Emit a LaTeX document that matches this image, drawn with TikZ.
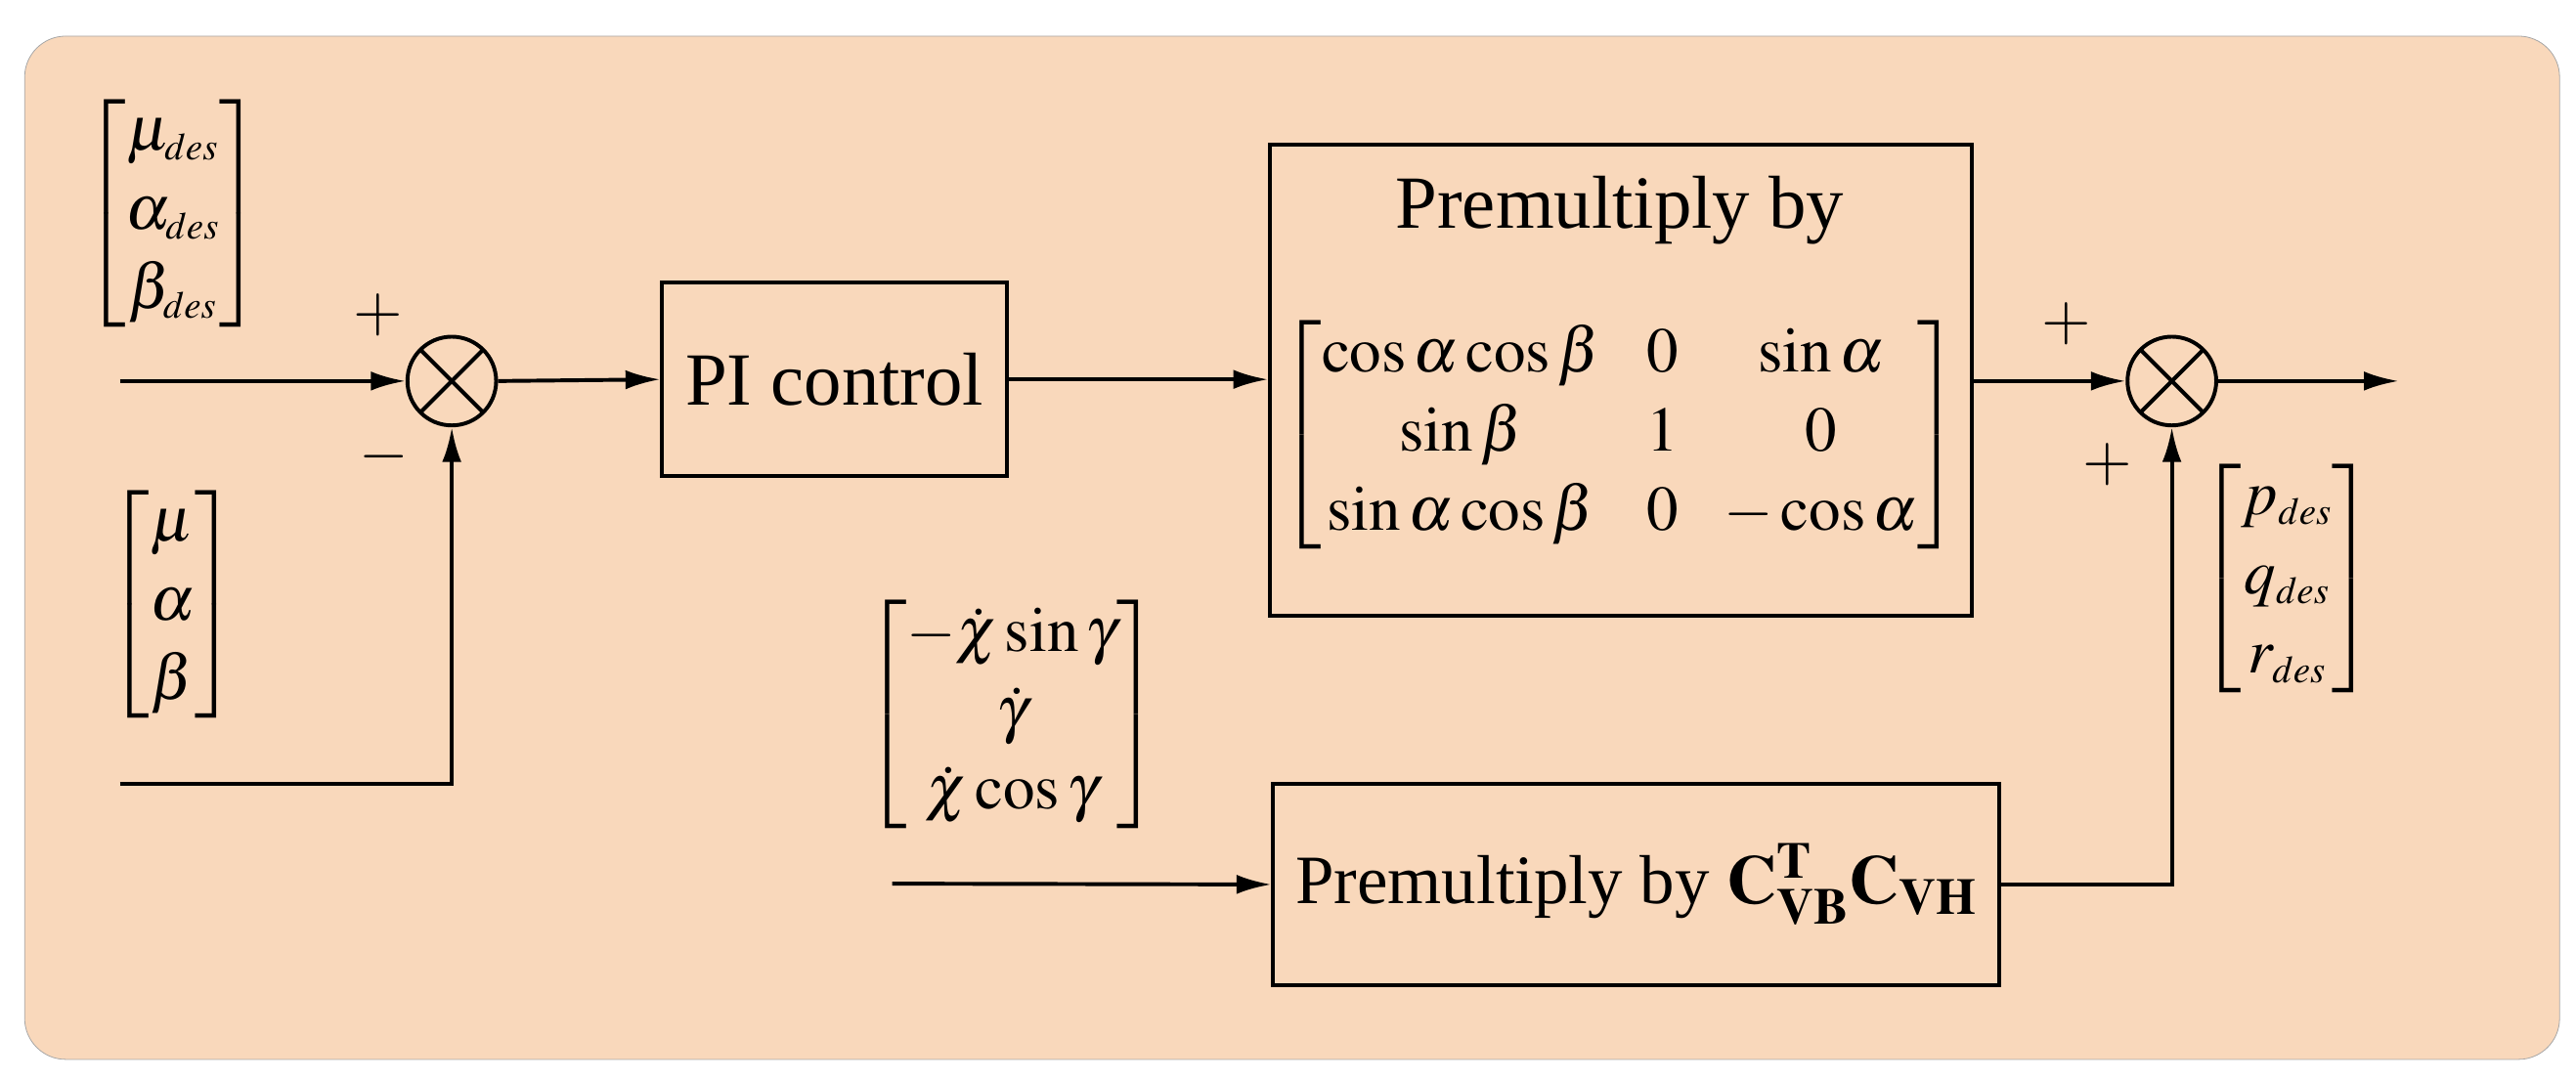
\documentclass[tikz,border=0pt]{standalone}
\usepackage{amsmath}
\usepackage{mathptmx}
\usepackage{fontspec}
\setmainfont{Liberation Serif}
\usetikzlibrary{arrows.meta}
\definecolor{bg}{RGB}{249,216,187}
\renewcommand{\arraystretch}{1.08}
\setlength{\arraycolsep}{12pt}
\newcommand{\dsub}{_{\scriptscriptstyle des}}
\begin{document}
\begin{tikzpicture}[x=0.03cm,y=-0.03cm,
  every node/.style={font=\fontsize{33}{38}\selectfont},
  blk/.style={draw,line width=2pt,inner sep=0pt},
  wire/.style={line width=2pt},
  arr/.style={wire,-{Latex[length=18pt,width=10pt]}},
  sum/.style={draw,line width=2pt,circle,minimum size=1.62cm,inner sep=0pt,path picture={
    \draw[line width=2pt] (path picture bounding box.north west)--(path picture bounding box.south east)
      (path picture bounding box.north east)--(path picture bounding box.south west);}}]
\useasboundingbox (0,0) rectangle (1568,657);
\draw[fill=bg,draw=gray!70,rounded corners=0.75cm] (15,22) rectangle (1558,645);
\node[sum] (s1) at (275,232) {};
\node[sum] (s2) at (1322,232) {};
\node[blk,minimum width=6.3cm,minimum height=3.54cm,font=\fontsize{39}{44}\selectfont] (pi) at (508,231) {PI control};
\node[blk,minimum width=12.81cm,minimum height=8.61cm] (pm) at (986.5,231.5) {};
\node[font=\fontsize{39}{44}\selectfont] (pmt) at (986,128) {Premultiply by};
\node (mat) at (986,265) {$\begin{bmatrix}\cos\alpha\cos\beta & 0 & \sin\alpha\\ \sin\beta & 1 & 0\\ \sin\alpha\cos\beta & 0 & -\cos\alpha\end{bmatrix}$};
\node[blk,minimum width=13.26cm,minimum height=3.69cm,font=\fontsize{36}{42}\selectfont] (cv) at (996,538.5) {Premultiply by $\mathbf{C}_{\mathbf{VB}}^{\mathbf{T}}\mathbf{C}_{\mathbf{VH}}$};
\node (v1) at (105,130) {$\begin{bmatrix}\mu\dsub\\ \alpha\dsub\\ \beta\dsub\end{bmatrix}$};
\node (v2) at (105,368) {$\begin{bmatrix}\mu\\ \alpha\\ \beta\end{bmatrix}$};
\node (v3) at (616,435) {$\begin{bmatrix}-\dot\chi\sin\gamma\\ \dot\gamma\\ \dot\chi\cos\gamma\end{bmatrix}$};
\node (v4) at (1392,352) {$\begin{bmatrix}p\dsub\\ q\dsub\\ r\dsub\end{bmatrix}$};
\node at (230,192) {$+$};
\node at (234,278) {$-$};
\node at (1258,197) {$+$};
\node at (1283,283) {$+$};
\coordinate (i1) at (73,232);
\coordinate (i2) at (73,477);
\coordinate (i3) at (543,538);
\coordinate (o) at (1460,232);
\draw[arr] (i1) -- (s1.west);
\draw[arr] (i2) -| (s1.south);
\draw[arr] (s1.east) -- (pi.west);
\draw[arr] (pi.east) -- (pm.west |- pi.east);
\draw[arr] (pm.east |- s2) -- (s2.west);
\draw[arr] (s2.east) -- (o);
\draw[arr] (i3) -- (cv.west);
\draw[arr] (cv.east) -| (s2.south);
\end{tikzpicture}
\end{document}
